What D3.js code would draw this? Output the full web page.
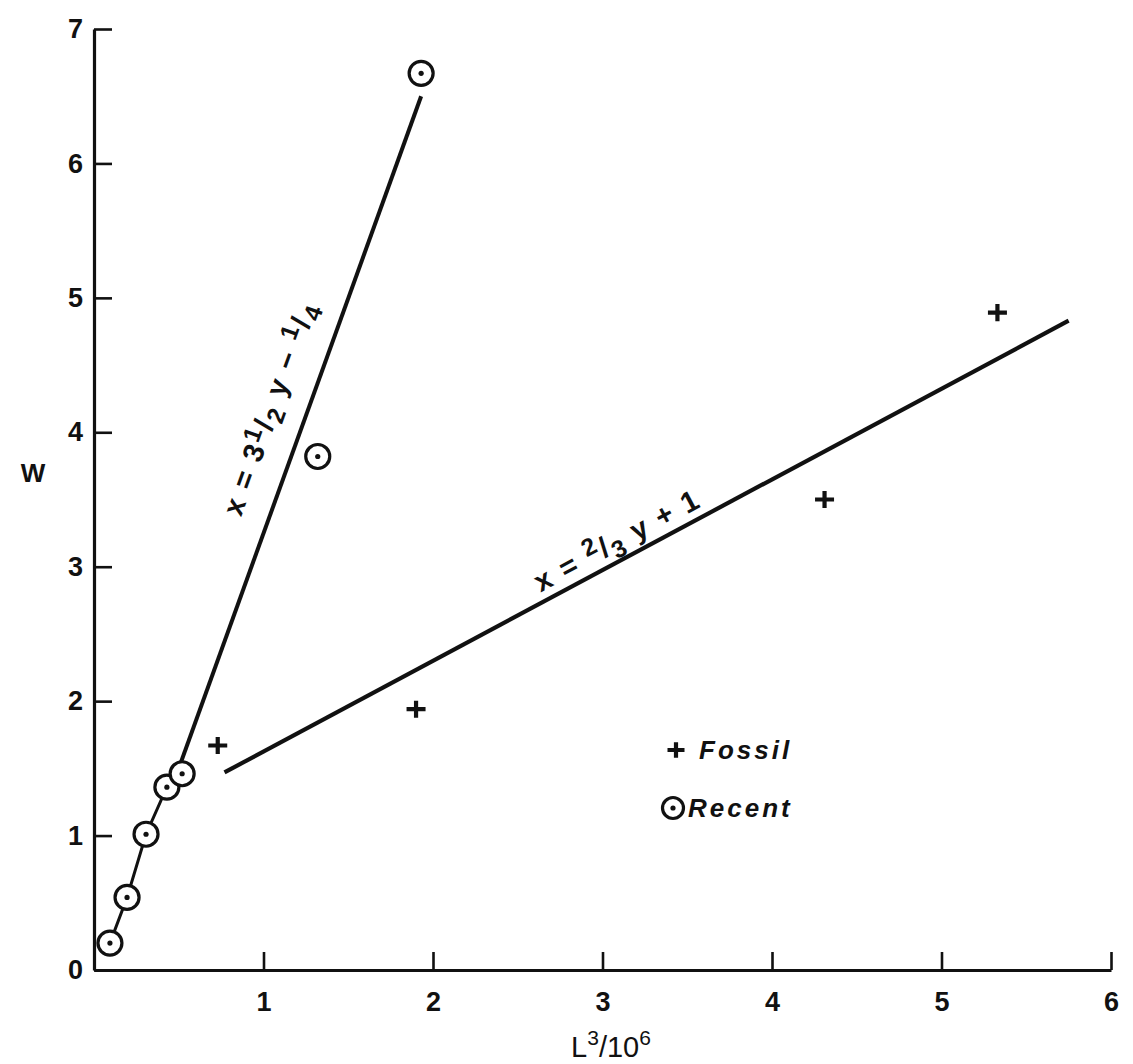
<!DOCTYPE html>
<html><head><meta charset="utf-8">
<script src="https://cdn.jsdelivr.net/npm/d3@7"></script>
<style>body{margin:0;background:#fff}svg{display:block}</style>
</head><body>
<svg id="c" width="1133" height="1064"></svg>
<script>
// ---- data ----
const recentL = [0.094, 0.195, 0.307, 0.43, 0.52, 1.32, 1.93];
const recentW = [0.20, 0.54, 1.01, 1.36, 1.46, 3.82, 6.67];
const fossilL = [0.73, 1.90, 4.31, 5.33];
const fossilW = [1.67, 1.94, 3.50, 4.89];
const recentChainCount = 5;           // lower recent points joined by segments
const recentFitL = [0.50, 1.93];      // x = 3½ y − ¼
const recentFitW = [1.50, 6.50];
const fossilFitL = [0.77, 5.75];      // x = ⅔ y + 1
const fossilFitW = [1.47, 4.83];
const xTicks = [1, 2, 3, 4, 5, 6];
const yTicks = [0, 1, 2, 3, 4, 5, 6, 7];
const legendLabels = ["Fossil", "Recent"];

// ---- layout ----
const ink = "#111";
const font = "'Liberation Sans', Arial, sans-serif";
const svg = d3.select("#c");
const x = d3.scaleLinear().domain([0, 6]).range([94, 1111]);
const y = d3.scaleLinear().domain([0, 7]).range([970, 29]);

// axes
const yAxis = d3.axisLeft(y).tickValues(yTicks).tickFormat(d3.format("d"))
  .tickSize(-18).tickSizeOuter(0).tickPadding(11);
const xAxis = d3.axisBottom(x).tickValues(xTicks).tickFormat(d3.format("d"))
  .tickSize(-18).tickSizeOuter(0).tickPadding(22);

const gy = svg.append("g").attr("transform", `translate(${x(0)},0)`).call(yAxis);
const gx = svg.append("g").attr("transform", `translate(0,${y(0)})`).call(xAxis);
[gx, gy].forEach(g => {
  g.select(".domain").attr("stroke", ink).attr("stroke-width", 3.2);
  g.selectAll(".tick line").attr("stroke", ink).attr("stroke-width", 2.6);
  g.selectAll(".tick text").attr("fill", ink)
    .style("font-family", font).style("font-size", "27px").style("font-weight", "bold");
});

// axis titles
svg.append("text").attr("x", 33).attr("y", y(3.7)).attr("dy", "0.35em")
  .attr("text-anchor", "middle").attr("fill", ink)
  .style("font-family", font).style("font-size", "26px").style("font-weight", "bold")
  .text("W");

const xt = svg.append("text").attr("x", x(3.05)).attr("y", 1057)
  .attr("text-anchor", "middle").attr("fill", ink)
  .style("font-family", font).style("font-size", "29px");
xt.append("tspan").text("L");
xt.append("tspan").attr("dy", -12).style("font-size", "21px").text("3");
xt.append("tspan").attr("dy", 12).text("/10");
xt.append("tspan").attr("dy", -12).style("font-size", "21px").text("6");

// lines
const line = d3.line().x(d => x(d[0])).y(d => y(d[1]));
const chain = d3.range(recentChainCount).map(i => [recentL[i], recentW[i]]);
svg.append("path").attr("d", line(chain)).attr("fill", "none")
  .attr("stroke", ink).attr("stroke-width", 3);
svg.append("path").attr("d", line(d3.zip(recentFitL, recentFitW))).attr("fill", "none")
  .attr("stroke", ink).attr("stroke-width", 4);
svg.append("path").attr("d", line(d3.zip(fossilFitL, fossilFitW))).attr("fill", "none")
  .attr("stroke", ink).attr("stroke-width", 4.2);

// line labels
function lineLabel(fitL, fitW, tL, offset, size, segs) {
  const x1 = x(fitL[0]), y1 = y(fitW[0]), x2 = x(fitL[1]), y2 = y(fitW[1]);
  const ang = Math.atan2(y2 - y1, x2 - x1) * 180 / Math.PI;
  const t = (tL - fitL[0]) / (fitL[1] - fitL[0]);
  const px = x1 + t * (x2 - x1), py = y1 + t * (y2 - y1);
  const g = svg.append("g").attr("transform", `translate(${px},${py}) rotate(${ang})`);
  const txt = g.append("text").attr("x", 0).attr("y", -offset + size * 0.36)
    .attr("text-anchor", "middle").attr("fill", ink)
    .style("font-family", font).style("font-size", size + "px").style("font-weight", "bold")
    .style("letter-spacing", "2px");
  let cur = 0;
  segs.forEach(s => {
    const sh = s[1] || 0;
    const ts = txt.append("tspan").attr("dy", sh - cur).text(s[0]);
    if (sh !== 0) ts.style("font-size", (size * 0.85) + "px");
    cur = sh;
  });
}
lineLabel(recentFitL, recentFitW, 1.24, 37, 29,
  [["x = 3"], ["1", -9], ["/"], ["2", 7], [" y − "], ["1", -9], ["/"], ["4", 7]]);
lineLabel(fossilFitL, fossilFitW, 3.14, 20, 29,
  [["x = "], ["2", -9], ["/"], ["3", 7], [" y + 1"]]);

// markers
function recentMark(g, r) {
  g.append("circle").attr("r", r).attr("fill", "#fff").attr("stroke", ink).attr("stroke-width", 3.2);
  g.append("circle").attr("r", 2.6).attr("fill", ink);
}
function fossilMark(g, s) {
  g.append("path").attr("d", `M${-s},0H${s}M0,${-s * 0.9}V${s * 0.9}`)
    .attr("stroke", ink).attr("stroke-width", 4.2).attr("fill", "none");
}
d3.zip(recentL, recentW).forEach(d => {
  recentMark(svg.append("g").attr("transform", `translate(${x(d[0])},${y(d[1])})`), 12);
});
d3.zip(fossilL, fossilW).forEach(d => {
  fossilMark(svg.append("g").attr("transform", `translate(${x(d[0])},${y(d[1])})`), 9.5);
});

// legend
const lg = svg.append("g");
const legY = [750, 808];
fossilMark(lg.append("g").attr("transform", `translate(676,${legY[0]})`), 8.5);
recentMark(lg.append("g").attr("transform", `translate(673,${legY[1]})`), 10.5);
legendLabels.forEach((t, i) => {
  lg.append("text").attr("x", i === 0 ? 699 : 688).attr("y", legY[i]).attr("dy", "0.36em")
    .attr("fill", ink).style("font-family", font).style("font-size", "26px")
    .style("font-weight", "bold").style("font-style", "italic").style("letter-spacing", "3px")
    .text(t);
});
</script>
</body></html>
